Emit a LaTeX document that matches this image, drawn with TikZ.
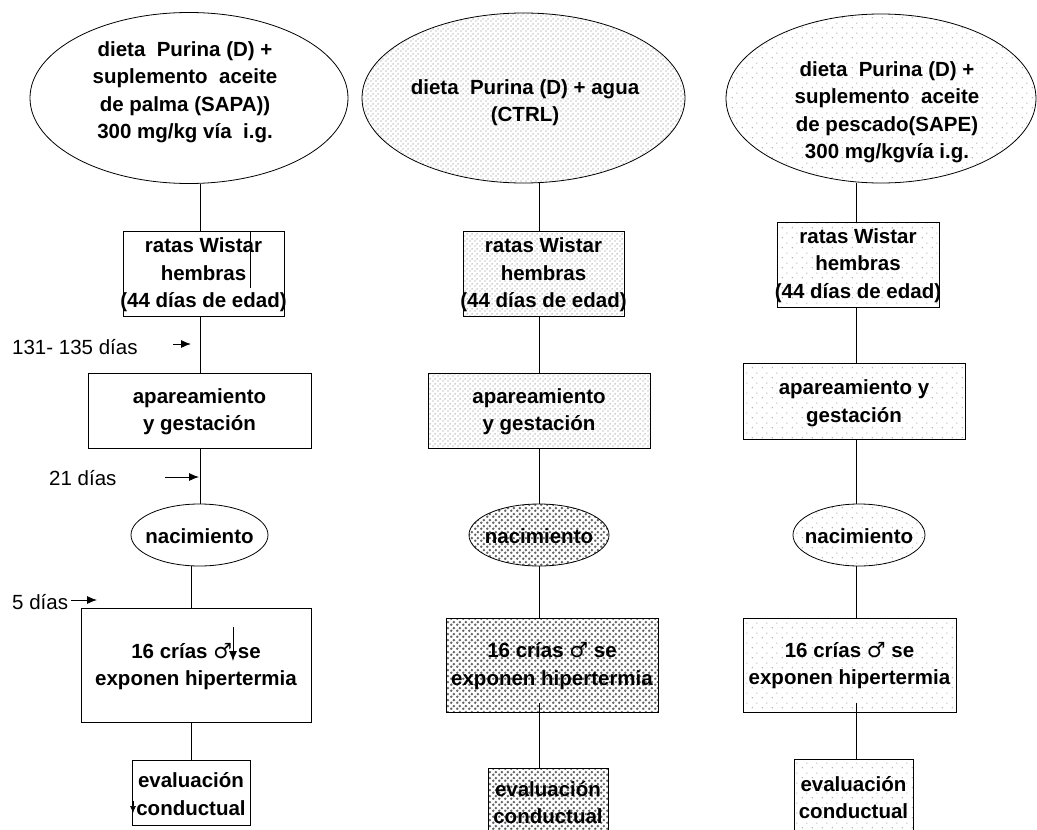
\documentclass[tikz,border=0pt]{standalone}
\usepackage{fontspec}
\setmainfont{Liberation Sans}
\newfontfamily\symfont{DejaVu Sans}
\usetikzlibrary{patterns,arrows.meta,shapes.geometric}

\pgfdeclarepatternformonly{lightdots}{\pgfqpoint{0pt}{0pt}}{\pgfqpoint{4.5pt}{4.5pt}}{\pgfqpoint{4.5pt}{4.5pt}}{%
  \pgfpathcircle{\pgfqpoint{1.125pt}{1.125pt}}{0.75pt}%
  \pgfpathcircle{\pgfqpoint{3.375pt}{3.375pt}}{0.75pt}%
  \pgfusepath{fill}}
\pgfdeclarepatternformonly{sparsedots}{\pgfqpoint{0pt}{0pt}}{\pgfqpoint{10pt}{10pt}}{\pgfqpoint{10pt}{10pt}}{%
  \pgfpathcircle{\pgfqpoint{2.5pt}{2.5pt}}{0.65pt}%
  \pgfpathcircle{\pgfqpoint{7.5pt}{7.5pt}}{0.65pt}%
  \pgfusepath{fill}}
\pgfdeclarepatternformonly{darkdots}{\pgfqpoint{0pt}{0pt}}{\pgfqpoint{6pt}{6pt}}{\pgfqpoint{6pt}{6pt}}{%
  \pgfpathcircle{\pgfqpoint{1.5pt}{1.5pt}}{1.6pt}%
  \pgfpathcircle{\pgfqpoint{4.5pt}{4.5pt}}{1.6pt}%
  \pgfusepath{fill}}

\tikzset{
  txt/.style={font=\fontsize{20.5}{27.5}\selectfont\bfseries, align=center, inner sep=0pt},
  box/.style={draw, line width=0.8pt, rectangle, inner sep=0pt},
  oval/.style={draw, line width=0.8pt, ellipse, inner sep=0pt},
  conn/.style={line width=0.8pt},
  lbl/.style={font=\fontsize{20.5}{24}\selectfont, anchor=west, inner sep=0pt},
  tip/.style={line width=0.9pt, -{Latex[length=10pt,width=8pt]}},
  pl/.style={pattern=lightdots, pattern color=black!45},
  ps/.style={pattern=sparsedots, pattern color=black!40},
  pd/.style={pattern=darkdots, pattern color=black!60},
}
\newcommand{\male}{{\symfont\mdseries\fontsize{21}{21}\selectfont ♂}}

\begin{document}
\begin{tikzpicture}[x=1pt,y=-1pt]
\clip (0,0) rectangle (1037,830);
\fill[white] (0,0) rectangle (1037,830);

% column x positions for connectors
\coordinate (xa) at (200,0);
\coordinate (xb) at (191,0);
\coordinate (xc) at (539,0);
\coordinate (xd) at (856,0);

% ---------- column 1 ----------
\node[oval, minimum width=318pt, minimum height=171pt] (e1) at (189,98) {};
\node[txt] (te1) at (185,92) {dieta~ Purina (D) +\\suplemento~ aceite\\de palma (SAPA))\\300 mg/kg vía~ i.g.};
\node[box, minimum width=161pt, minimum height=85pt] (r1) at (203.5,273.5) {};
\node[txt] (tr1) at (203.5,275) {ratas Wistar\\hembras\\(44 días de edad)};
\node[box, minimum width=223pt, minimum height=75pt] (a1) at (199.5,410.5) {};
\node[txt] (ta1) at (199.5,411.5) {apareamiento\\y gestación};
\node[oval, minimum width=137pt, minimum height=62pt] (n1) at (199.5,535) {};
\node[txt] (tn1) at (199.5,536) {nacimiento};
\node[box, minimum width=230pt, minimum height=114pt] (c1) at (196,665) {};
\node[txt] (tc1) at (196,666.5) {16 crías \male\ se\\exponen hipertermia};
\node[box, minimum width=118pt, minimum height=65pt] (v1) at (191,792.5) {};
\node[txt] (tv1) at (191,794) {evaluación\\conductual};

\draw[conn] (e1.south -| xa) -- (r1.north -| xa);
\draw[conn] (r1.south -| xa) -- (a1.north -| xa);
\draw[conn] (a1.south -| xa) -- (n1.north -| xa);
\draw[conn] (n1.south -| xb) -- (c1.north -| xb);
\draw[conn] (c1.south -| xb) -- (v1.north -| xb);

% labels and arrows of column 1
\node[lbl] (l1) at (12,347) {131- 135 días};
\node[lbl] (l2) at (49,478) {21 días};
\node[lbl] (l3) at (12,602) {5 días};
\coordinate (a1s) at (173,344);
\coordinate (a1e) at (191,344);
\coordinate (a2s) at (165,477);
\coordinate (a2e) at (199,477);
\coordinate (a3s) at (71,600);
\coordinate (a3e) at (97,600);
\draw[tip] (a1s) -- (a1e);
\draw[tip] (a2s) -- (a2e);
\draw[tip] (a3s) -- (a3e);
% stray marks
\coordinate (s1) at (250,231);
\coordinate (s2) at (250,288);
\draw[conn] (s1) -- (s2);
\coordinate (s3) at (233,627);
\coordinate (s4) at (233,661);
\draw[tip] (s3) -- (s4);
\coordinate (s5) at (133,801);
\coordinate (s6) at (133,813);
\draw[line width=0.6pt, -{Latex[length=7pt,width=6pt]}] (s5) -- (s6);

% ---------- column 2 ----------
\node[oval, pl, minimum width=323pt, minimum height=170pt] (e2) at (523.5,98) {};
\node[txt] (te2) at (525,102.5) {dieta~ Purina (D) + agua\\(CTRL)};
\node[box, pl, minimum width=161pt, minimum height=85pt] (r2) at (543.5,273.5) {};
\node[txt] (tr2) at (543.5,275) {ratas Wistar\\hembras\\(44 días de edad)};
\node[box, pl, minimum width=222pt, minimum height=75pt] (a2) at (539,410.5) {};
\node[txt] (ta2) at (539,411.5) {apareamiento\\y gestación};
\node[oval, pd, minimum width=140pt, minimum height=62pt] (n2) at (539,535) {};
\node[txt] (tn2) at (539,536) {nacimiento};
\node[box, pd, minimum width=212pt, minimum height=94pt] (c2) at (552,665) {};
\node[txt] (tc2) at (552,666) {16 crías \male\ se\\exponen hipertermia};
\node[box, pd, minimum width=120pt, minimum height=72pt] (v2) at (548,804) {};
\node[txt] (tv2) at (548,802.5) {evaluación\\conductual};

\draw[conn] (e2.south -| xc) -- (r2.north -| xc);
\draw[conn] (r2.south -| xc) -- (a2.north -| xc);
\draw[conn] (a2.south -| xc) -- (n2.north -| xc);
\draw[conn] (n2.south -| xc) -- (c2.north -| xc);
\draw[conn] ([yshift=9pt]c2.south -| xc) -- (v2.north -| xc);

% ---------- column 3 ----------
\node[oval, ps, minimum width=310pt, minimum height=169pt] (e3) at (881,98.5) {};
\node[txt] (te3) at (887,112) {dieta~ Purina (D) +\\suplemento~ aceite\\de pescado(SAPE)\\300 mg/kgvía i.g.};
\node[box, ps, minimum width=162pt, minimum height=85pt] (r3) at (858,264.5) {};
\node[txt] (tr3) at (858,265.5) {ratas Wistar\\hembras\\(44 días de edad)};
\node[box, ps, minimum width=222pt, minimum height=76pt] (a3) at (854,401) {};
\node[txt] (ta3) at (854,403) {apareamiento y\\gestación};
\node[oval, ps, minimum width=132pt, minimum height=62pt] (n3) at (859,535) {};
\node[txt] (tn3) at (859,536) {nacimiento};
\node[box, ps, minimum width=213pt, minimum height=94pt] (c3) at (849.5,665) {};
\node[txt] (tc3) at (849.5,665.5) {16 crías \male\ se\\exponen hipertermia};
\node[box, ps, minimum width=119pt, minimum height=81pt] (v3) at (853.5,799.5) {};
\node[txt] (tv3) at (853.5,797.5) {evaluación\\conductual};

\draw[conn] (e3.south -| xd) -- (r3.north -| xd);
\draw[conn] (r3.south -| xd) -- (a3.north -| xd);
\draw[conn] (a3.south -| xd) -- (n3.north -| xd);
\draw[conn] (n3.south -| xd) -- (c3.north -| xd);
\draw[conn] ([yshift=9pt]c3.south -| xd) -- (v3.north -| xd);
\end{tikzpicture}
\end{document}
